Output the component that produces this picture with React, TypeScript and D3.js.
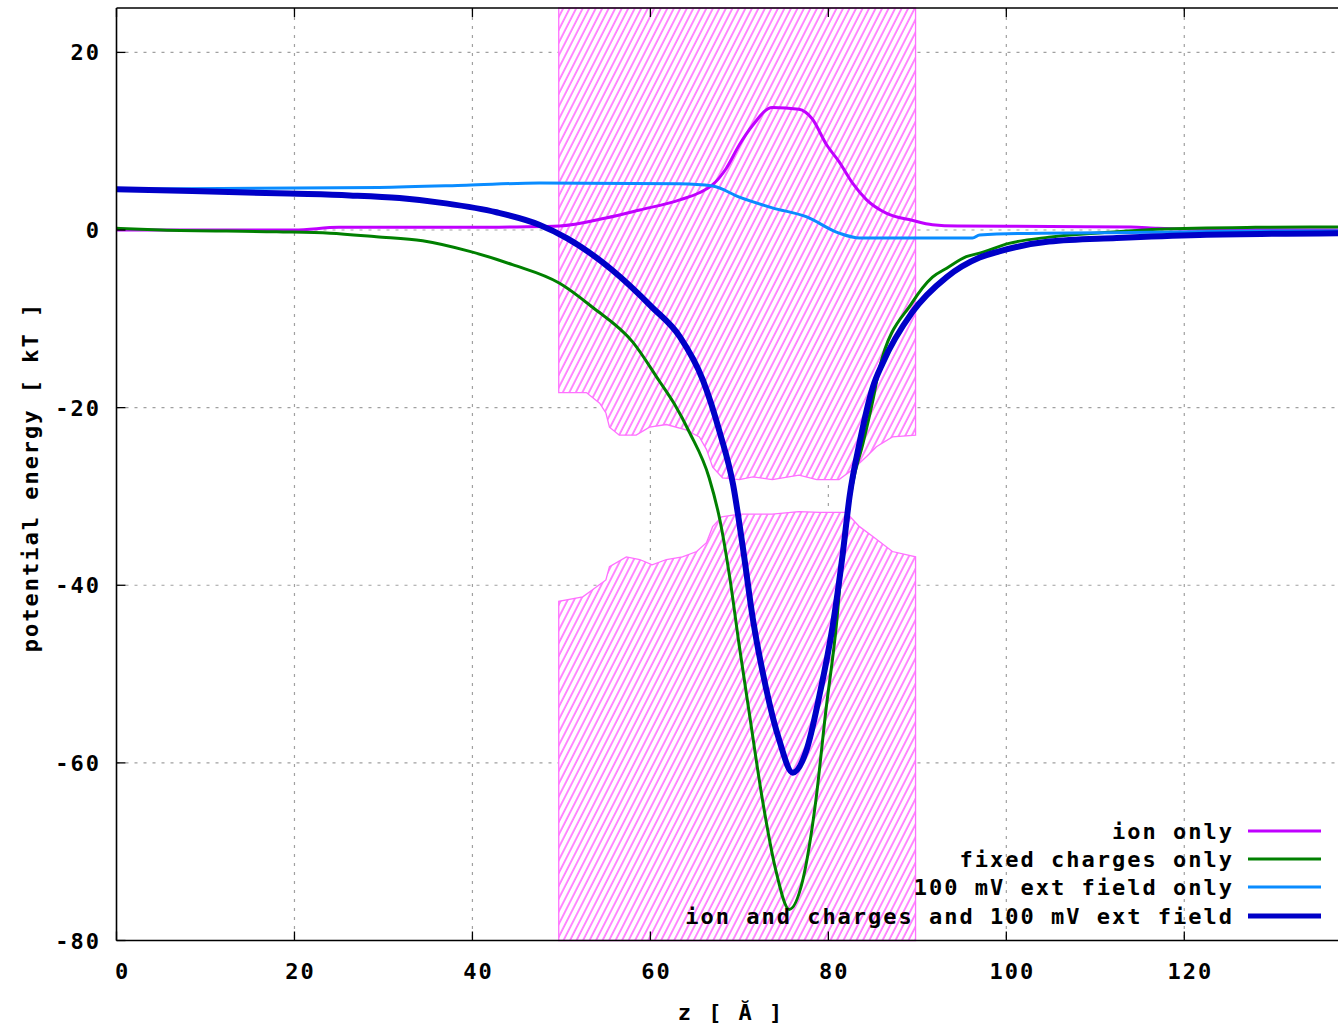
import React from "react";
import * as d3 from "d3";

// ---- data ----
const xTicks = [0, 20, 40, 60, 80, 100, 120];
const yTicks = [20, 0, -20, -40, -60, -80];

const ionZ = [0, 10, 20, 25, 30, 40, 45, 49.8, 55, 58.8, 63.3, 65.5, 67, 68.5, 70, 71.5, 73.7, 76.7, 78.2, 79.8, 81.2, 82.7, 84.3, 86.5, 89.4, 91.7, 94.5, 105, 114, 117, 125, 137.5];
const ionV = [0, 0, 0, 0.3, 0.3, 0.3, 0.35, 0.45, 1.35, 2.25, 3.4, 4.2, 5.1, 6.9, 9.6, 11.8, 13.8, 13.6, 12.5, 9.6, 7.7, 5.3, 3.4, 1.9, 1.1, 0.6, 0.45, 0.4, 0.34, 0.2, 0.05, 0];

const fixedZ = [0, 5, 18, 24, 29.2, 34.4, 39.7, 44.5, 49.8, 53.5, 58, 61, 62.7, 64.4, 66.6, 67.8, 68.9, 70, 71.1, 72.6, 74.1, 75.6, 77.1, 78.6, 79.7, 80.9, 81.6, 82.7, 83.9, 85, 85.7, 89.4, 91.7, 93.3, 95.5, 97, 100.3, 104.8, 112.4, 117, 128, 137.5];
const fixedV = [0.2, 0, -0.2, -0.35, -0.75, -1.2, -2.4, -3.9, -6.0, -8.7, -12.6, -17.0, -19.6, -22.8, -27.9, -32.6, -39.0, -46.9, -54.3, -64.2, -72.1, -76.5, -73.3, -64.2, -54.3, -44.5, -36.6, -28.7, -24.0, -19.2, -15.7, -8.2, -5.3, -4.3, -3.0, -2.6, -1.5, -0.8, -0.2, 0.1, 0.3, 0.35];

const fieldZ = [0, 29.5, 39.3, 47.5, 63.3, 67, 70, 73.7, 77.5, 81.2, 83.5, 92.5, 96.2, 97, 104, 112, 117, 125, 137.5];
const fieldV = [4.6, 4.8, 5.05, 5.3, 5.2, 4.95, 3.7, 2.5, 1.5, -0.35, -0.9, -0.9, -0.9, -0.55, -0.35, -0.3, -0.25, -0.15, -0.1];

const allZ = [0, 8.5, 19.4, 26.2, 31.8, 37, 42.7, 47.5, 50.6, 55.7, 60.2, 63.3, 65.9, 67.8, 69.3, 70.4, 71.5, 73, 74.5, 76, 77.5, 79, 80.5, 81.6, 82.4, 83.5, 85, 86.1, 89.4, 93.3, 97, 99.2, 104.8, 112.4, 121.7, 137.5];
const allV = [4.6, 4.4, 4.1, 3.9, 3.6, 3.0, 2.0, 0.6, -0.9, -4.5, -8.7, -12.0, -16.9, -22.8, -28.7, -35.8, -43.7, -51.6, -57.5, -61.1, -58.7, -52.4, -44.5, -36.6, -29.9, -24.0, -17.7, -15.0, -9.3, -5.3, -3.1, -2.4, -1.3, -0.9, -0.55, -0.35];

// pore wall (protein) outline
const upperWallZ = [49.7, 52.8, 54.3, 55, 55.4, 56.5, 58.4, 59.9, 61.8, 64, 65.5, 66.3, 67, 68.1, 70, 71.5, 73.7, 76.7, 78.7, 81.2, 82.7, 84.3, 85.4, 87.2, 89.8];
const upperWallV = [-18.3, -18.3, -19.5, -20.6, -22.2, -23.1, -23.1, -22.2, -21.9, -22.5, -23.3, -24.7, -26.7, -27.9, -28.1, -27.8, -28.1, -27.6, -28.1, -28.1, -27, -25.5, -24.4, -23.3, -23.1];
const lowerWallZ = [49.7, 52.4, 53.5, 55, 55.4, 57.3, 58.8, 60.2, 61.8, 63.6, 65.2, 66.3, 67, 68, 70, 73.7, 76.7, 79, 82, 83.5, 85, 87.2, 89.8];
const lowerWallV = [-41.8, -41.3, -40.5, -39.4, -37.9, -36.8, -37.1, -37.7, -37.1, -36.8, -36.2, -35.2, -33.4, -32.3, -32, -32, -31.7, -31.8, -31.8, -33.4, -34.5, -36.2, -36.8];

const seriesNames = ["ion only", "fixed charges only", "100 mV ext field only", "ion and charges and 100 mV ext field"];
const seriesColors = ["#c000ff", "#008000", "#0a8cff", "#0000c8"];
const seriesWidths = [3, 3, 3, 6];

const W = 1338, H = 1028;
const FONT = "'DejaVu Sans Mono', 'Liberation Mono', monospace";
const FS = 22;
const LS = 2;

export default function App() {
  const x = d3.scaleLinear().domain([0, 137.5]).range([116.5, 1340]);
  const y = d3.scaleLinear().domain([-80, 25]).range([940.5, 8]);
  const line = d3.line<[number, number]>().x((d) => x(d[0])).y((d) => y(d[1])).curve(d3.curveMonotoneX);

  const zip = (zs: number[], vs: number[]) => zs.map((z, i) => [z, vs[i]] as [number, number]);
  const series = [zip(ionZ, ionV), zip(fixedZ, fixedV), zip(fieldZ, fieldV), zip(allZ, allV)];

  const zL = upperWallZ[0], zR = upperWallZ[upperWallZ.length - 1];
  const upperPoly: [number, number][] = [[zL, 25], ...zip(upperWallZ, upperWallV), [zR, 25]];
  const lowerPoly: [number, number][] = [[zL, -80], ...zip(lowerWallZ, lowerWallV), [zR, -80]];
  const poly = d3.line<[number, number]>().x((d) => x(d[0])).y((d) => y(d[1])).curve(d3.curveLinear);

  const x0 = x(0), yTop = y(25), yBot = y(-80);
  const legendRows = [831, 859, 887, 916];

  const txt = { fontSize: FS, fontWeight: 700 as const, letterSpacing: LS };

  return (
    <svg width={W} height={H} style={{ position: "absolute", left: 0, top: 0, background: "#fff" }} fontFamily={FONT}>
      <defs>
        <pattern id="hatch" patternUnits="userSpaceOnUse" width={5.8} height={12} patternTransform="rotate(27)">
          <rect width={5.8} height={12} fill="#fff" />
          <line x1={1} y1={0} x2={1} y2={12} stroke="#ff55ff" strokeWidth={1.4} />
        </pattern>
        <clipPath id="plotclip">
          <rect x={x0} y={yTop} width={W - x0} height={yBot - yTop} />
        </clipPath>
      </defs>
      <rect width={W} height={H} fill="#fff" />

      {/* grid */}
      {xTicks.filter((t) => t !== 0).map((t) => (
        <line key={"gx" + t} x1={x(t)} x2={x(t)} y1={yTop} y2={yBot} stroke="#a0a0a0" strokeWidth={1.2} strokeDasharray="3,6" />
      ))}
      {yTicks.filter((t) => t !== -80).map((t) => (
        <line key={"gy" + t} x1={x0} x2={W} y1={y(t)} y2={y(t)} stroke="#a0a0a0" strokeWidth={1.2} strokeDasharray="3,6" />
      ))}

      {/* protein walls */}
      <path d={poly(upperPoly) + "Z"} fill="url(#hatch)" stroke="#ff70ff" strokeWidth={1.3} />
      <path d={poly(lowerPoly) + "Z"} fill="url(#hatch)" stroke="#ff70ff" strokeWidth={1.3} />

      {/* curves */}
      <g clipPath="url(#plotclip)">
        {series.map((s, i) => (
          <path key={i} d={line(s) || ""} fill="none" stroke={seriesColors[i]} strokeWidth={seriesWidths[i]} strokeLinejoin="round" />
        ))}
      </g>

      {/* axes frame */}
      <line x1={x0} x2={x0} y1={yTop} y2={yBot} stroke="#000" strokeWidth={1.6} />
      <line x1={x0} x2={W} y1={yTop} y2={yTop} stroke="#000" strokeWidth={1.6} />
      <line x1={x0} x2={W} y1={yBot} y2={yBot} stroke="#000" strokeWidth={1.6} />

      {/* ticks */}
      {xTicks.map((t) => (
        <g key={"tx" + t}>
          <line x1={x(t)} x2={x(t)} y1={yBot} y2={yBot - 9} stroke="#000" strokeWidth={1.3} />
          <line x1={x(t)} x2={x(t)} y1={yTop} y2={yTop + 9} stroke="#000" strokeWidth={1.3} />
          <text x={x(t) + 6} y={yBot + 38} textAnchor="middle" {...txt}>{t}</text>
        </g>
      ))}
      {yTicks.map((t) => (
        <g key={"ty" + t}>
          <line x1={x0} x2={x0 + 9} y1={y(t)} y2={y(t)} stroke="#000" strokeWidth={1.3} />
          <text x={101} y={y(t) + 8} textAnchor="end" {...txt}>{t}</text>
        </g>
      ))}

      {/* axis titles */}
      <text x={731} y={1020} textAnchor="middle" {...txt}>z [ Ă  ]</text>
      <text transform={`translate(38, 477) rotate(-90)`} textAnchor="middle" {...txt}>potential energy [ kT ]</text>

      {/* legend */}
      {seriesNames.map((n, i) => (
        <g key={"lg" + i}>
          <text x={1234} y={legendRows[i] + 8} textAnchor="end" {...txt}>{n}</text>
          <line x1={1248} x2={1321} y1={legendRows[i]} y2={legendRows[i]} stroke={seriesColors[i]} strokeWidth={seriesWidths[i] === 6 ? 5 : 3} />
        </g>
      ))}
    </svg>
  );
}
